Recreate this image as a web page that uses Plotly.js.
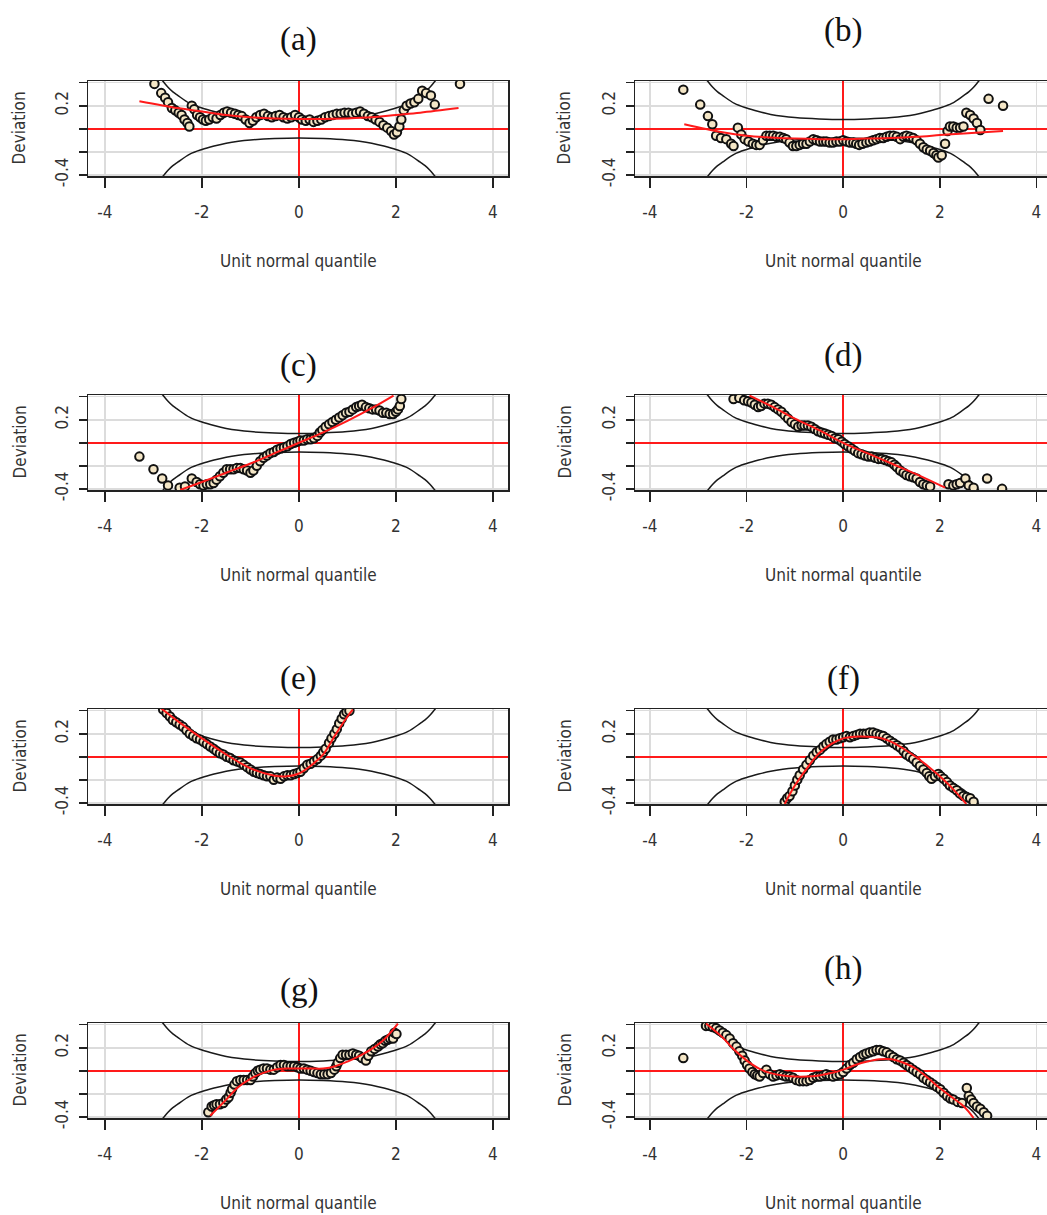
<!DOCTYPE html>
<html>
<head>
<meta charset="utf-8">
<script src="https://cdn.plot.ly/plotly-3.0.1.min.js"></script>
<style>html,body{margin:0;padding:0;background:#fff}#chart{width:1047px;height:1215px}</style>
</head>
<body>
<div id="chart"></div>
<script>
// ---------- data ----------
const panelLabels = ['(a)','(b)','(c)','(d)','(e)','(f)','(g)','(h)'];
const xTickVals = [-4,-2,0,2,4];
const xTickText = ['-4','-2','0','2','4'];
const yTickVals = [-0.4,-0.2,0,0.2,0.4];
const yTickText = ['-0.4','','','0.2',''];

// confidence band (upper/lower) of the worm plots
const bandX = [-2.95,-2.9,-2.8,-2.7,-2.6,-2.5,-2.25,-2,-1.75,-1.5,-1.25,-1,-0.5,0,0.5,1,1.25,1.5,1.75,2,2.25,2.5,2.6,2.7,2.8,2.9,2.95];
const bandUpper = [0.50,0.46,0.41,0.36,0.32,0.29,0.22,0.18,0.15,0.125,0.108,0.097,0.085,0.08,0.085,0.097,0.108,0.125,0.15,0.18,0.22,0.29,0.32,0.36,0.41,0.46,0.50];
const bandLower = [-0.50,-0.46,-0.41,-0.36,-0.32,-0.29,-0.22,-0.18,-0.15,-0.125,-0.108,-0.097,-0.085,-0.08,-0.085,-0.097,-0.108,-0.125,-0.15,-0.18,-0.22,-0.29,-0.32,-0.36,-0.41,-0.46,-0.50];

const pointsA = [[-2.98,0.39],[-2.84,0.31],[-2.76,0.27],[-2.70,0.23],[-2.62,0.18],[-2.55,0.16],[-2.48,0.14],[-2.42,0.12],[-2.36,0.08],[-2.30,0.05],[-2.26,0.02],[-2.21,0.20],[-2.16,0.17],[-2.10,0.12],[-2.04,0.10],[-1.98,0.08],[-1.92,0.07],[-1.85,0.08],[-1.78,0.10],[-1.70,0.09],[-1.62,0.12],[-1.55,0.14],[-1.48,0.15],[-1.40,0.14],[-1.32,0.13],[-1.25,0.12],[-1.18,0.11],[-1.10,0.08],[-1.02,0.05],[-0.95,0.07],[-0.88,0.10],[-0.80,0.12],[-0.72,0.13],[-0.64,0.11],[-0.56,0.10],[-0.48,0.11],[-0.40,0.12],[-0.32,0.10],[-0.24,0.09],[-0.16,0.10],[-0.08,0.12],[0.00,0.10],[0.06,0.08],[0.14,0.07],[0.22,0.08],[0.30,0.06],[0.38,0.07],[0.46,0.08],[0.54,0.10],[0.62,0.11],[0.70,0.12],[0.78,0.13],[0.86,0.13],[0.94,0.14],[1.02,0.14],[1.10,0.13],[1.18,0.14],[1.26,0.15],[1.34,0.13],[1.42,0.11],[1.50,0.10],[1.58,0.08],[1.66,0.06],[1.74,0.03],[1.82,0.01],[1.90,-0.02],[1.96,-0.05],[2.02,-0.03],[2.07,0.02],[2.11,0.08],[2.16,0.16],[2.22,0.20],[2.30,0.22],[2.38,0.23],[2.46,0.26],[2.54,0.33],[2.62,0.31],[2.72,0.29],[2.80,0.21],[3.32,0.39]];
const fitA = [[-3.29,0.24],[-2.5,0.18],[-2,0.15],[-1.5,0.12],[-1,0.10],[-0.5,0.09],[0,0.085],[0.5,0.085],[1,0.09],[1.5,0.10],[2,0.12],[2.5,0.14],[3.29,0.18]];

const pointsB = [[-3.31,0.34],[-2.96,0.21],[-2.80,0.11],[-2.71,0.04],[-2.63,-0.06],[-2.53,-0.08],[-2.42,-0.09],[-2.32,-0.13],[-2.27,-0.15],[-2.18,0.01],[-2.11,-0.05],[-2.04,-0.09],[-1.96,-0.11],[-1.87,-0.13],[-1.80,-0.14],[-1.73,-0.14],[-1.66,-0.10],[-1.59,-0.06],[-1.52,-0.06],[-1.45,-0.06],[-1.38,-0.07],[-1.31,-0.07],[-1.24,-0.08],[-1.18,-0.09],[-1.11,-0.12],[-1.04,-0.15],[-0.97,-0.15],[-0.90,-0.14],[-0.83,-0.13],[-0.76,-0.13],[-0.69,-0.11],[-0.62,-0.09],[-0.55,-0.10],[-0.48,-0.11],[-0.41,-0.11],[-0.35,-0.11],[-0.28,-0.12],[-0.21,-0.12],[-0.14,-0.11],[-0.07,-0.11],[0.0,-0.10],[0.07,-0.11],[0.14,-0.12],[0.21,-0.12],[0.27,-0.13],[0.33,-0.14],[0.40,-0.13],[0.48,-0.12],[0.55,-0.11],[0.62,-0.10],[0.69,-0.09],[0.76,-0.08],[0.83,-0.08],[0.90,-0.07],[0.97,-0.06],[1.04,-0.06],[1.11,-0.07],[1.18,-0.09],[1.25,-0.07],[1.31,-0.06],[1.38,-0.07],[1.45,-0.08],[1.52,-0.10],[1.59,-0.13],[1.66,-0.16],[1.73,-0.18],[1.80,-0.19],[1.87,-0.21],[1.93,-0.23],[1.97,-0.25],[2.04,-0.23],[2.11,-0.13],[2.16,-0.02],[2.21,0.02],[2.28,0.02],[2.35,0.01],[2.42,0.01],[2.49,0.02],[2.55,0.14],[2.63,0.12],[2.70,0.09],[2.77,0.05],[2.84,-0.01],[3.01,0.26],[3.31,0.20]];
const fitB = [[-3.29,0.04],[-2.5,-0.03],[-2,-0.06],[-1.5,-0.075],[-1,-0.085],[-0.5,-0.09],[0,-0.09],[0.5,-0.085],[1,-0.08],[1.5,-0.07],[2,-0.055],[2.5,-0.04],[3.31,-0.02]];

const pointsC = [[-3.29,-0.12],[-3.0,-0.23],[-2.82,-0.31],[-2.70,-0.37],[-2.46,-0.39],[-2.35,-0.38],[-2.21,-0.31],[-2.11,-0.34],[-2.04,-0.36],[-1.97,-0.37],[-1.90,-0.36],[-1.83,-0.36],[-1.76,-0.35],[-1.70,-0.32],[-1.63,-0.29],[-1.56,-0.26],[-1.49,-0.23],[-1.42,-0.23],[-1.35,-0.23],[-1.28,-0.22],[-1.21,-0.22],[-1.14,-0.23],[-1.07,-0.24],[-1.0,-0.26],[-0.94,-0.24],[-0.87,-0.20],[-0.80,-0.16],[-0.73,-0.13],[-0.66,-0.11],[-0.59,-0.09],[-0.52,-0.08],[-0.45,-0.06],[-0.38,-0.05],[-0.31,-0.04],[-0.24,-0.03],[-0.17,-0.01],[-0.10,0.0],[-0.03,0.01],[0.03,0.02],[0.10,0.02],[0.17,0.03],[0.24,0.03],[0.31,0.04],[0.38,0.06],[0.43,0.09],[0.48,0.11],[0.55,0.14],[0.62,0.16],[0.69,0.18],[0.76,0.20],[0.83,0.22],[0.90,0.24],[0.97,0.26],[1.04,0.27],[1.11,0.29],[1.18,0.31],[1.24,0.32],[1.30,0.33],[1.38,0.31],[1.45,0.30],[1.52,0.29],[1.59,0.29],[1.66,0.28],[1.73,0.26],[1.80,0.26],[1.87,0.25],[1.94,0.25],[2.00,0.27],[2.04,0.29],[2.08,0.32],[2.11,0.38]];
const fitC = [[-2.45,-0.41],[-2,-0.34],[-1.5,-0.26],[-1,-0.18],[-0.5,-0.09],[0,0],[0.5,0.09],[1,0.19],[1.5,0.30],[1.95,0.41]];

const pointsD = [[-2.27,0.38],[-2.15,0.39],[-2.05,0.37],[-1.97,0.36],[-1.90,0.35],[-1.83,0.33],[-1.76,0.31],[-1.70,0.32],[-1.63,0.34],[-1.56,0.34],[-1.49,0.33],[-1.42,0.31],[-1.35,0.29],[-1.28,0.27],[-1.21,0.24],[-1.14,0.21],[-1.07,0.18],[-1.0,0.16],[-0.93,0.14],[-0.86,0.15],[-0.80,0.15],[-0.73,0.15],[-0.66,0.14],[-0.59,0.12],[-0.52,0.10],[-0.45,0.09],[-0.38,0.08],[-0.31,0.07],[-0.24,0.06],[-0.17,0.04],[-0.10,0.03],[-0.03,0.01],[0.03,-0.01],[0.10,-0.03],[0.17,-0.05],[0.24,-0.07],[0.31,-0.09],[0.38,-0.10],[0.45,-0.11],[0.52,-0.12],[0.59,-0.12],[0.66,-0.13],[0.73,-0.14],[0.80,-0.14],[0.87,-0.15],[0.94,-0.16],[1.0,-0.17],[1.06,-0.19],[1.11,-0.21],[1.18,-0.24],[1.25,-0.26],[1.31,-0.28],[1.38,-0.29],[1.45,-0.30],[1.52,-0.31],[1.59,-0.34],[1.66,-0.36],[1.73,-0.37],[1.80,-0.38],[2.18,-0.36],[2.28,-0.37],[2.35,-0.36],[2.42,-0.35],[2.53,-0.31],[2.60,-0.37],[2.70,-0.39],[2.98,-0.31],[3.29,-0.40]];
const fitD = [[-1.94,0.41],[-1.5,0.32],[-1,0.21],[-0.5,0.11],[0,0],[0.5,-0.09],[1,-0.18],[1.5,-0.27],[2.11,-0.39]];

const pointsE = [[-2.80,0.41],[-2.73,0.38],[-2.66,0.35],[-2.60,0.32],[-2.53,0.30],[-2.46,0.28],[-2.39,0.26],[-2.32,0.23],[-2.25,0.20],[-2.18,0.18],[-2.11,0.16],[-2.04,0.15],[-1.97,0.13],[-1.90,0.11],[-1.83,0.09],[-1.76,0.07],[-1.70,0.05],[-1.63,0.03],[-1.56,0.02],[-1.49,0.0],[-1.42,-0.01],[-1.35,-0.03],[-1.28,-0.04],[-1.21,-0.05],[-1.14,-0.07],[-1.07,-0.09],[-1.0,-0.11],[-0.93,-0.13],[-0.87,-0.14],[-0.80,-0.15],[-0.73,-0.16],[-0.66,-0.17],[-0.59,-0.17],[-0.52,-0.20],[-0.45,-0.18],[-0.38,-0.19],[-0.31,-0.17],[-0.24,-0.16],[-0.17,-0.16],[-0.10,-0.15],[-0.03,-0.14],[0.03,-0.13],[0.10,-0.10],[0.17,-0.07],[0.24,-0.06],[0.31,-0.04],[0.38,-0.02],[0.45,0.01],[0.50,0.04],[0.55,0.07],[0.62,0.12],[0.67,0.16],[0.73,0.20],[0.78,0.24],[0.83,0.29],[0.88,0.33],[0.93,0.37],[0.98,0.39],[1.04,0.40]];
const fitE = [[-2.87,0.43],[-2.5,0.31],[-2,0.16],[-1.5,0.02],[-1,-0.10],[-0.5,-0.165],[-0.25,-0.17],[0,-0.145],[0.25,-0.075],[0.5,0.02],[0.75,0.19],[1.0,0.35],[1.11,0.41]];

const pointsF = [[-1.21,-0.39],[-1.16,-0.36],[-1.11,-0.34],[-1.05,-0.30],[-1.0,-0.25],[-0.95,-0.20],[-0.90,-0.16],[-0.83,-0.11],[-0.76,-0.07],[-0.69,-0.03],[-0.62,0.01],[-0.55,0.04],[-0.48,0.06],[-0.41,0.09],[-0.35,0.11],[-0.28,0.13],[-0.21,0.15],[-0.14,0.15],[-0.07,0.16],[0.0,0.17],[0.07,0.18],[0.14,0.17],[0.21,0.18],[0.28,0.19],[0.35,0.20],[0.42,0.20],[0.48,0.20],[0.55,0.21],[0.62,0.21],[0.69,0.20],[0.76,0.19],[0.83,0.18],[0.90,0.16],[0.97,0.14],[1.04,0.12],[1.11,0.10],[1.18,0.08],[1.25,0.05],[1.31,0.02],[1.38,0.0],[1.45,-0.02],[1.52,-0.05],[1.59,-0.08],[1.66,-0.11],[1.73,-0.14],[1.78,-0.17],[1.83,-0.19],[1.90,-0.17],[1.97,-0.15],[2.02,-0.17],[2.08,-0.19],[2.15,-0.22],[2.21,-0.25],[2.28,-0.27],[2.35,-0.29],[2.42,-0.32],[2.49,-0.34],[2.56,-0.35],[2.63,-0.36],[2.70,-0.39]];
const fitF = [[-1.21,-0.41],[-1,-0.25],[-0.75,-0.10],[-0.5,0.03],[-0.25,0.11],[0,0.16],[0.25,0.175],[0.5,0.175],[0.75,0.165],[1,0.13],[1.25,0.07],[1.5,0.0],[1.75,-0.08],[2,-0.17],[2.25,-0.27],[2.55,-0.41]];

const pointsG = [[-1.87,-0.36],[-1.80,-0.31],[-1.75,-0.30],[-1.70,-0.29],[-1.63,-0.29],[-1.56,-0.28],[-1.50,-0.25],[-1.45,-0.23],[-1.41,-0.19],[-1.38,-0.16],[-1.33,-0.12],[-1.28,-0.09],[-1.21,-0.08],[-1.14,-0.08],[-1.07,-0.08],[-1.0,-0.08],[-0.95,-0.05],[-0.90,-0.02],[-0.85,0.0],[-0.80,0.01],[-0.73,0.02],[-0.66,0.02],[-0.59,0.01],[-0.52,0.01],[-0.45,0.03],[-0.38,0.05],[-0.31,0.05],[-0.24,0.04],[-0.17,0.04],[-0.10,0.04],[-0.03,0.03],[0.03,0.02],[0.10,0.02],[0.17,0.01],[0.24,0.0],[0.31,-0.01],[0.38,-0.02],[0.45,-0.03],[0.52,-0.03],[0.59,-0.03],[0.66,-0.02],[0.73,0.01],[0.77,0.04],[0.80,0.07],[0.85,0.11],[0.90,0.14],[0.97,0.14],[1.04,0.14],[1.11,0.15],[1.18,0.14],[1.24,0.13],[1.30,0.11],[1.38,0.09],[1.43,0.13],[1.49,0.17],[1.56,0.19],[1.63,0.21],[1.68,0.23],[1.73,0.24],[1.78,0.26],[1.83,0.27],[1.88,0.28],[1.94,0.28],[1.97,0.33],[2.01,0.32]];
const fitG = [[-1.83,-0.39],[-1.5,-0.25],[-1.25,-0.14],[-1,-0.07],[-0.75,-0.02],[-0.5,0.01],[-0.25,0.02],[0,0.02],[0.25,0.02],[0.5,0.02],[0.75,0.04],[1,0.08],[1.25,0.13],[1.5,0.19],[1.75,0.27],[2.04,0.41]];

const pointsH = [[-3.31,0.11],[-2.84,0.39],[-2.77,0.39],[-2.70,0.38],[-2.63,0.37],[-2.56,0.35],[-2.49,0.33],[-2.42,0.31],[-2.35,0.28],[-2.28,0.24],[-2.21,0.21],[-2.15,0.17],[-2.09,0.13],[-2.04,0.09],[-1.99,0.05],[-1.94,0.02],[-1.88,-0.01],[-1.83,-0.03],[-1.78,-0.04],[-1.73,-0.05],[-1.66,-0.02],[-1.59,0.01],[-1.52,-0.03],[-1.45,-0.05],[-1.38,-0.04],[-1.31,-0.03],[-1.25,-0.04],[-1.18,-0.05],[-1.11,-0.05],[-1.04,-0.06],[-0.97,-0.08],[-0.90,-0.09],[-0.83,-0.09],[-0.76,-0.09],[-0.69,-0.08],[-0.62,-0.06],[-0.55,-0.05],[-0.48,-0.05],[-0.41,-0.04],[-0.35,-0.03],[-0.28,-0.04],[-0.21,-0.05],[-0.14,-0.04],[-0.07,-0.03],[0.0,-0.01],[0.07,0.02],[0.14,0.05],[0.21,0.07],[0.28,0.10],[0.35,0.12],[0.42,0.14],[0.48,0.15],[0.55,0.16],[0.62,0.17],[0.69,0.18],[0.76,0.18],[0.83,0.17],[0.90,0.16],[0.97,0.14],[1.04,0.12],[1.11,0.10],[1.18,0.09],[1.25,0.07],[1.31,0.05],[1.38,0.03],[1.45,0.01],[1.52,-0.01],[1.59,-0.03],[1.66,-0.06],[1.73,-0.08],[1.80,-0.10],[1.87,-0.12],[1.94,-0.14],[2.01,-0.16],[2.08,-0.19],[2.15,-0.22],[2.22,-0.24],[2.28,-0.25],[2.37,-0.27],[2.46,-0.28],[2.56,-0.15],[2.60,-0.22],[2.65,-0.25],[2.70,-0.28],[2.77,-0.31],[2.84,-0.33],[2.91,-0.36],[2.98,-0.39]];
const fitH = [[-2.84,0.41],[-2.5,0.29],[-2.25,0.18],[-2,0.09],[-1.75,0.02],[-1.5,-0.02],[-1.25,-0.04],[-1,-0.05],[-0.75,-0.05],[-0.5,-0.04],[-0.25,-0.02],[0,0.01],[0.25,0.05],[0.5,0.08],[0.75,0.10],[1,0.10],[1.25,0.07],[1.5,0.02],[1.75,-0.06],[2,-0.15],[2.25,-0.23],[2.5,-0.31],[2.7,-0.41]];

const panelPoints = [pointsA,pointsB,pointsC,pointsD,pointsE,pointsF,pointsG,pointsH];
const panelFits = [fitA,fitB,fitC,fitD,fitE,fitF,fitG,fitH];

// ---------- layout geometry (pixels) ----------
const W = 1047, H = 1215;
const boxTops = [81, 395, 709, 1023];
const boxH = 95;
const colLeft = [88, 635];
const colRight = [508, 1047];
const xRanges = [[-4.35, 4.31], [-4.31, 4.22]];
const yRange = [-0.41, 0.415];
const titleY = [40, 30, 365, 355, 678, 678, 990, 968];
const devX = [19, 564];

const sansFont = 'DejaVu Sans Condensed, DejaVu Sans, sans-serif';
const data = [];
const layout = {
  width: W, height: H,
  margin: {l: 0, r: 0, t: 0, b: 0},
  paper_bgcolor: '#fff', plot_bgcolor: '#fff',
  showlegend: false,
  annotations: []
};

for (let i = 0; i < 8; i++) {
  const row = Math.floor(i / 2), col = i % 2;
  const suf = i === 0 ? '' : String(i + 1);
  const xa = 'x' + suf, ya = 'y' + suf;
  const top = boxTops[row], bot = top + boxH;
  layout['xaxis' + suf] = {
    domain: [colLeft[col] / W, colRight[col] / W],
    range: xRanges[col], anchor: ya,
    tickmode: 'array', tickvals: xTickVals, ticktext: xTickText,
    showgrid: true, gridcolor: '#dcdcdc', gridwidth: 1.5,
    zeroline: true, zerolinecolor: '#ff1a1a', zerolinewidth: 1.5,
    showline: true, linecolor: '#222', linewidth: 1.5, mirror: true,
    ticks: 'outside', ticklen: 10, tickwidth: 1.5, tickcolor: '#222',
    ticklabelstandoff: 10,
    tickfont: {family: sansFont, size: 17, color: '#333'}
  };
  layout['yaxis' + suf] = {
    domain: [1 - bot / H, 1 - top / H],
    range: yRange, anchor: xa,
    tickmode: 'array', tickvals: yTickVals, ticktext: yTickText,
    tickangle: -90,
    showgrid: true, gridcolor: '#dcdcdc', gridwidth: 1.5,
    zeroline: true, zerolinecolor: '#ff1a1a', zerolinewidth: 1.5,
    showline: true, linecolor: '#222', linewidth: 1.5, mirror: col === 0,
    ticks: 'outside', ticklen: 8, tickwidth: 1.5, tickcolor: '#222',
    ticklabelstandoff: 4,
    tickfont: {family: sansFont, size: 17, color: '#333'}
  };

  // confidence bands
  data.push({type: 'scatter', mode: 'lines', x: bandX, y: bandUpper, xaxis: xa, yaxis: ya,
    line: {color: '#1a1a1a', width: 1.5, shape: 'spline'}, hoverinfo: 'skip'});
  data.push({type: 'scatter', mode: 'lines', x: bandX, y: bandLower, xaxis: xa, yaxis: ya,
    line: {color: '#1a1a1a', width: 1.5, shape: 'spline'}, hoverinfo: 'skip'});
  // worm points
  const pts = panelPoints[i];
  data.push({type: 'scatter', mode: 'markers', x: pts.map(p => p[0]), y: pts.map(p => p[1]),
    xaxis: xa, yaxis: ya,
    marker: {symbol: 'circle', size: 8.5, color: '#f4e6c6', line: {color: '#111', width: 2}}});
  // fitted cubic
  const ft = panelFits[i];
  data.push({type: 'scatter', mode: 'lines', x: ft.map(p => p[0]), y: ft.map(p => p[1]),
    xaxis: xa, yaxis: ya, line: {color: '#ff1a1a', width: 2, shape: 'spline'}});

  // titles and axis titles
  layout.annotations.push({text: panelLabels[i], xref: xa, x: 0, yref: 'paper', y: 1 - titleY[i] / H,
    yanchor: 'middle', xanchor: 'center', showarrow: false,
    font: {family: 'Liberation Serif, DejaVu Serif, serif', size: 33, color: '#111'}});
  layout.annotations.push({text: 'Deviation', xref: 'paper', x: devX[col] / W, yref: 'paper',
    y: 1 - (top + boxH / 2) / H, textangle: -90, xanchor: 'center', yanchor: 'middle', showarrow: false,
    font: {family: sansFont, size: 17, color: '#333'}});
  layout.annotations.push({text: 'Unit normal quantile', xref: xa, x: 0, yref: 'paper',
    y: 1 - (bot + 85) / H, xanchor: 'center', yanchor: 'middle', showarrow: false,
    font: {family: sansFont, size: 17, color: '#333'}});
}

Plotly.newPlot('chart', data, layout, {staticPlot: true, displayModeBar: false});
</script>
</body>
</html>
